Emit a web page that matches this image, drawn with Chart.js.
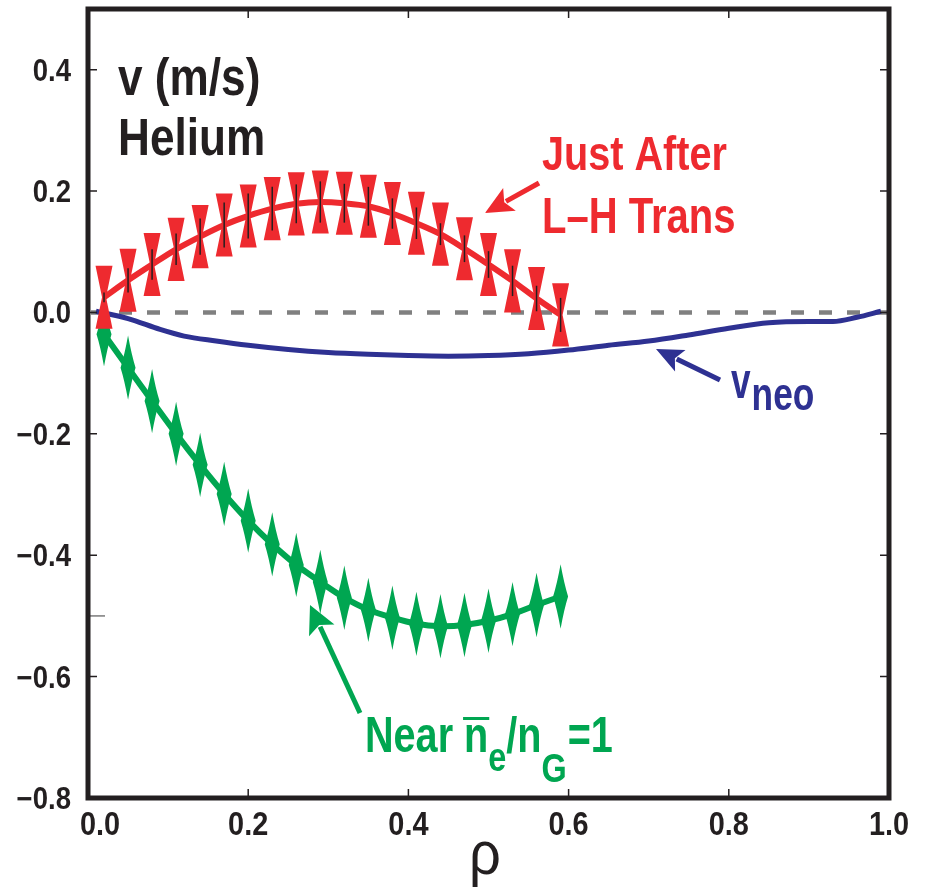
<!DOCTYPE html>
<html>
<head>
<meta charset="utf-8">
<title>Helium v profile</title>
<script src="https://cdn.jsdelivr.net/npm/chart.js@4.4.1/dist/chart.umd.min.js"></script>
<style>
  html, body { margin: 0; padding: 0; background: #fff; }
  #wrap { width: 930px; height: 896px; }
</style>
</head>
<body>
<div id="wrap"><canvas id="c" width="930" height="896"></canvas></div>
<script>
(function () {
  "use strict";

  // ---- values ----
  const rho = [0.02, 0.05, 0.08, 0.11, 0.14, 0.17, 0.20, 0.23, 0.26, 0.29,
               0.32, 0.35, 0.38, 0.41, 0.44, 0.47, 0.50, 0.53, 0.56, 0.59];

  // "Just After L-H Trans" (red)
  const redV = [0.025, 0.053, 0.079, 0.104, 0.125, 0.144, 0.159, 0.171, 0.179, 0.182,
                0.180, 0.175, 0.163, 0.147, 0.129, 0.105, 0.079, 0.052, 0.023, -0.004];
  const redErr = [0.052, 0.052, 0.052, 0.052, 0.052, 0.052, 0.052, 0.052, 0.052, 0.052,
                  0.052, 0.052, 0.052, 0.052, 0.052, 0.052, 0.052, 0.052, 0.052, 0.052];
  const redInner = [0.008, 0.020, 0.025, 0.026, 0.030, 0.037, 0.037, 0.036, 0.032, 0.034,
                    0.032, 0.032, 0.025, 0.026, 0.018, 0.022, 0.022, 0.025, 0.021, 0.028];

  // "Near ne/nG = 1" (green)
  const greenV = [-0.036, -0.091, -0.146, -0.200, -0.251, -0.299, -0.343, -0.382, -0.416, -0.444,
                  -0.470, -0.490, -0.503, -0.513, -0.517, -0.515, -0.508, -0.497, -0.482, -0.468];
  const greenErr = [0.053, 0.053, 0.053, 0.053, 0.053, 0.053, 0.053, 0.053, 0.053, 0.053,
                    0.053, 0.053, 0.053, 0.053, 0.053, 0.053, 0.053, 0.053, 0.053, 0.053];

  // v_neo (blue)
  const neoRho = [0.01, 0.05, 0.09, 0.12, 0.16, 0.20, 0.25, 0.30, 0.35, 0.40, 0.45, 0.50,
                  0.55, 0.60, 0.65, 0.70, 0.75, 0.80, 0.85, 0.90, 0.93, 0.96, 0.99];
  const neoV = [0.002, -0.010, -0.028, -0.039, -0.047, -0.054, -0.061, -0.066, -0.069, -0.071, -0.072, -0.071,
                -0.068, -0.062, -0.054, -0.047, -0.037, -0.026, -0.017, -0.015, -0.015, -0.008, 0.002];

  const xTicks = [0, 0.2, 0.4, 0.6, 0.8, 1.0];
  const xTickLabels = ["0.0", "0.2", "0.4", "0.6", "0.8", "1.0"];
  const yTicks = [0.4, 0.2, 0, -0.2, -0.4, -0.6, -0.8];
  const yTickLabels = ["0.4", "0.2", "0.0", "\u22120.2", "\u22120.4", "\u22120.6", "\u22120.8"];

  const C = { red: "#ee2a2f", green: "#00a651", blue: "#2e3192", dash: "#808080", ink: "#231f20" };
  const FONT = '"Liberation Sans", Arial, Helvetica, sans-serif';

  const pts = (xs, ys) => xs.map((x, i) => ({ x, y: ys[i] }));

  // text with optional squeeze/stretch (the original uses a condensed face)
  function text(ctx, s, x, y, size, opts = {}) {
    const sx = opts.sx || 1, sy = opts.sy || 1;
    ctx.save();
    ctx.font = `${opts.weight || "bold"} ${size}px ${FONT}`;
    ctx.fillStyle = opts.color || C.ink;
    ctx.textBaseline = "alphabetic";
    ctx.textAlign = "left";
    const w = ctx.measureText(s).width * sx;
    let x0 = x;
    if (opts.align === "center") x0 = x - w / 2;
    else if (opts.align === "right") x0 = x - w;
    ctx.translate(x0, y);
    ctx.scale(sx, sy);
    ctx.fillText(s, 0, 0);
    ctx.restore();
    return w;
  }

  function arrow(ctx, x1, y1, x2, y2, color, lw, len, half) {
    const dx = x2 - x1, dy = y2 - y1, d = Math.hypot(dx, dy);
    const ux = dx / d, uy = dy / d;
    const bx = x2 - ux * len, by = y2 - uy * len;
    ctx.save();
    ctx.strokeStyle = color;
    ctx.fillStyle = color;
    ctx.lineWidth = lw;
    ctx.beginPath();
    ctx.moveTo(x1, y1);
    ctx.lineTo(bx + ux * 4, by + uy * 4);
    ctx.stroke();
    ctx.beginPath();
    ctx.moveTo(x2, y2);
    ctx.lineTo(bx - uy * half, by + ux * half);
    ctx.lineTo(bx + ux * 6, by + uy * 6);
    ctx.lineTo(bx + uy * half, by - ux * half);
    ctx.closePath();
    ctx.fill();
    ctx.restore();
  }

  // error markers: red bow-ties, green spikes
  const markers = {
    id: "markers",
    afterDatasetsDraw(chart) {
      const { ctx, scales: { x, y } } = chart;
      ctx.save();
      ctx.fillStyle = C.green;
      rho.forEach((r, i) => {
        const cx = x.getPixelForValue(r), cy = y.getPixelForValue(greenV[i]);
        const h = cy - y.getPixelForValue(greenV[i] + greenErr[i]);
        ctx.beginPath();
        ctx.moveTo(cx, cy - h);
        ctx.quadraticCurveTo(cx + 3.5, cy - h * 0.4, cx + 7.5, cy);
        ctx.quadraticCurveTo(cx + 3.5, cy + h * 0.4, cx, cy + h);
        ctx.quadraticCurveTo(cx - 3.5, cy + h * 0.4, cx - 7.5, cy);
        ctx.quadraticCurveTo(cx - 3.5, cy - h * 0.4, cx, cy - h);
        ctx.fill();
      });
      rho.forEach((r, i) => {
        const cx = x.getPixelForValue(r), cy = y.getPixelForValue(redV[i]);
        const h = cy - y.getPixelForValue(redV[i] + redErr[i]);
        ctx.fillStyle = C.red;
        ctx.beginPath();
        ctx.moveTo(cx - 8.5, cy - h);
        ctx.lineTo(cx + 8.5, cy - h);
        ctx.lineTo(cx + 2, cy);
        ctx.lineTo(cx + 8.5, cy + h);
        ctx.lineTo(cx - 8.5, cy + h);
        ctx.lineTo(cx - 2, cy);
        ctx.closePath();
        ctx.fill();
        const hi = cy - y.getPixelForValue(redV[i] + redInner[i]);
        ctx.strokeStyle = C.ink;
        ctx.lineWidth = 1.5;
        ctx.beginPath();
        ctx.moveTo(cx, cy - hi);
        ctx.lineTo(cx, cy + hi);
        ctx.stroke();
      });
      ctx.restore();
    },
  };

  // frame, ticks, labels and the hand-placed annotations
  const frame = {
    id: "frame",
    afterDraw(chart) {
      const { ctx, chartArea: a, scales: { x, y } } = chart;
      ctx.save();
      ctx.strokeStyle = C.ink;
      ctx.lineWidth = 1.5;
      ctx.beginPath();
      yTicks.forEach((v) => {
        if (v === -0.8) return;
        const py = y.getPixelForValue(v);
        ctx.moveTo(a.left + 2, py); ctx.lineTo(a.left + 9, py);
        ctx.moveTo(a.right - 2, py); ctx.lineTo(a.right - 9, py);
      });
      xTicks.forEach((v) => {
        if (v === 0 || v === 1) return;
        const px = x.getPixelForValue(v);
        ctx.moveTo(px, a.bottom - 2); ctx.lineTo(px, a.bottom - 9);
        ctx.moveTo(px, a.top + 2); ctx.lineTo(px, a.top + 9);
      });
      ctx.stroke();
      // stray grey tick at -0.5 on the left
      ctx.strokeStyle = "#7a7a7a";
      ctx.beginPath();
      const p5 = y.getPixelForValue(-0.5);
      ctx.moveTo(a.left + 2, p5); ctx.lineTo(a.left + 17, p5);
      ctx.stroke();

      ctx.strokeStyle = C.ink;
      ctx.lineWidth = 5;
      ctx.strokeRect(a.left, a.top, a.right - a.left, a.bottom - a.top);
      ctx.restore();

      yTicks.forEach((v, i) => {
        text(ctx, yTickLabels[i], 71, y.getPixelForValue(v) + 11, 29, { align: "right", sx: 0.95, sy: 1.05 });
      });
      xTicks.forEach((v, i) => {
        const px = x.getPixelForValue(v) + (i === 0 ? 12 : 0);
        text(ctx, xTickLabels[i], px, 835, 34, { align: "center", sx: 0.85 });
      });
      text(ctx, "\u03C1", 485, 874, 56, { weight: "normal", align: "center", sy: 1.1 });

      // panel title
      text(ctx, "v (m/s)", 118, 95, 48, { sx: 0.92, sy: 1.08 });
      text(ctx, "Helium", 118, 155, 48, { sx: 0.92, sy: 1.08 });

      // red label + arrow
      text(ctx, "Just After", 542, 170, 44, { sx: 0.9, sy: 1.1, color: C.red });
      text(ctx, "L\u2013H Trans", 542, 233, 44, { sx: 0.91, sy: 1.12, color: C.red });
      arrow(ctx, 539, 183, 485, 213, C.red, 5, 28, 13);

      // v_neo label + arrow
      const wv = text(ctx, "v", 731, 398, 44, { sx: 0.8, sy: 1.15, color: C.blue });
      text(ctx, "neo", 731 + wv + 1, 410, 42, { sx: 0.84, sy: 1.12, color: C.blue });
      arrow(ctx, 720, 380, 656, 349, C.blue, 5, 27, 12);

      // green label + arrow
      const B = 752;
      const g = { sx: 0.9, sy: 1.12, color: C.green };
      const gs = { sx: 0.9, sy: 1.12, color: C.green };
      let cx = 365;
      cx += text(ctx, "Near ", cx, B, 44, g);
      const wn = text(ctx, "n", cx, B, 44, g);
      ctx.save();
      ctx.fillStyle = C.green;
      ctx.fillRect(cx - 1, B - 35, wn + 2, 3);
      ctx.restore();
      cx += wn;
      cx += text(ctx, "e", cx, B + 19, 36, gs);
      cx += text(ctx, "/n", cx, B, 44, g);
      cx += text(ctx, "G", cx, B + 30, 36, gs);
      text(ctx, "=1", cx + 1, B, 44, g);
      arrow(ctx, 360, 713, 310, 605, C.green, 5, 28, 14);
    },
  };

  const line = (data, color, width, extra) => Object.assign({
    data, borderColor: color, borderWidth: width, pointRadius: 0, fill: false,
  }, extra || {});

  new Chart(document.getElementById("c"), {
    type: "line",
    data: {
      datasets: [
        line(pts(rho, redV), C.red, 6, { cubicInterpolationMode: "monotone", order: 1 }),
        line(pts(rho, greenV), C.green, 6, { tension: 0.2, order: 2 }),
        line(pts(neoRho, neoV), C.blue, 5, { cubicInterpolationMode: "monotone", order: 3 }),
        line([{ x: 0, y: 0 }, { x: 1, y: 0 }], C.dash, 4.5,
             { borderDash: [13, 15], borderDashOffset: -3, order: 10 }),
      ],
    },
    options: {
      responsive: false,
      devicePixelRatio: 1,
      animation: false,
      layout: { padding: { left: 88, right: 41, top: 9, bottom: 98 } },
      scales: {
        x: { type: "linear", min: 0, max: 1, display: false },
        y: { type: "linear", min: -0.8, max: 0.5, display: false },
      },
      plugins: { legend: { display: false }, tooltip: { enabled: false } },
    },
    plugins: [markers, frame],
  });
})();
</script>
</body>
</html>
